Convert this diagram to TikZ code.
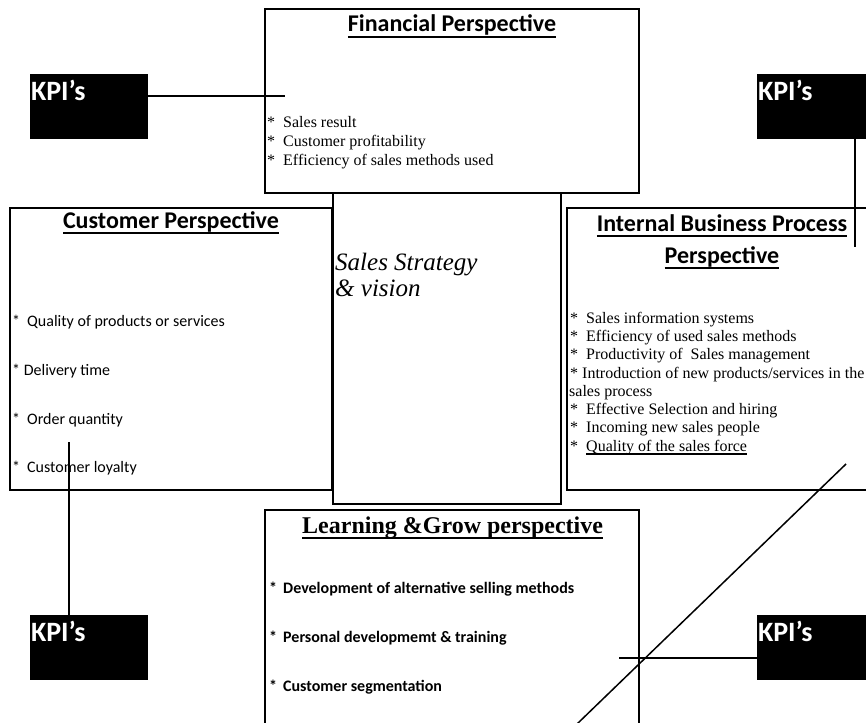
\documentclass[tikz,border=0pt]{standalone}
\usepackage{fontspec}
\setmainfont{Liberation Serif}
\newfontfamily\calibri{Carlito}
\newsavebox{\undlbox}
\newcommand{\undl}[1]{\sbox\undlbox{#1}\rlap{\vrule height -0.15em depth 0.23em width \wd\undlbox}\usebox\undlbox}
\newcommand{\bul}[1][16pt]{\makebox[#1][l]{*}}
\tikzset{
  persp/.style={draw, line width=1.6pt, anchor=north west, outer sep=0pt, inner sep=0pt},
  kpi/.style={fill=black, text=white, anchor=north west, outer sep=0pt, inner xsep=1pt, inner ysep=0pt,
    text width=116pt, text height=26.7pt, text depth=38.3pt, font=\calibri\bfseries\fontsize{28}{28}\selectfont},
  ttl/.style={anchor=base, inner sep=0pt, font=\calibri\bfseries\fontsize{24}{24}\selectfont},
  serif item/.style={anchor=base west, inner sep=0pt, font=\fontsize{16}{19}\selectfont},
  sans item/.style={anchor=base west, inner sep=0pt, font=\calibri\fontsize{16}{19}\selectfont},
  link/.style={line width=1.5pt}
}
\begin{document}
\begin{tikzpicture}[x=1pt, y=-1pt]
\useasboundingbox (0,0) rectangle (866,722);
\clip (0,0) rectangle (866,722);
% perspective boxes
\node[persp, minimum width=374pt, minimum height=184pt] (fin) at (265,9) {};
\node[persp, minimum width=322pt, minimum height=282pt] (cus) at (10,208) {};
\node[persp, minimum width=228pt, minimum height=311pt] (mid) at (333,193) {};
\node[persp, minimum width=310pt, minimum height=282pt] (ibp) at (567,208) {};
\node[persp, minimum width=374pt, minimum height=230pt] (lrn) at (265,510) {};

% financial
\node[ttl] (finT) at (452,32) {\undl{Financial Perspective}};
\foreach \t [count=\i] in {Sales result, Customer profitability, Efficiency of sales methods used}
{
    \node[serif item] (fin\i) at (267,{108.7+19*\i}) {\bul\t};
}

% customer
\node[ttl] (cusT) at (171,228.3) {\undl{Customer Perspective}};
\node[sans item] (cus1) at (12,326.7) {\bul[15pt]Quality of products or services};
\node[sans item] (cus2) at (12,375.4) {* Delivery time};
\node[sans item] (cus3) at (12,424) {\bul[15pt]Order quantity};
\node[sans item] (cus4) at (12,472.7) {\bul[15pt]Customer loyalty};

% strategy
\node[anchor=base west, inner sep=0pt, font=\itshape\fontsize{25}{27}\selectfont] (midT1) at (335,270) {Sales Strategy};
\node[anchor=base west, inner sep=0pt, font=\itshape\fontsize{25}{27}\selectfont] (midT2) at (335,296.7) {\& vision};

% internal business process
\node[ttl] (ibpT1) at (722,231.7) {\undl{Internal Business Process}};
\node[ttl] (ibpT2) at (722,263.3) {\undl{Perspective}};
\node[serif item] (ibp1) at (570,323.3) {\bul Sales information systems};
\node[serif item] (ibp2) at (570,341.6) {\bul Efficiency of used sales methods};
\node[serif item] (ibp3) at (570,359.8) {\bul Productivity of~ Sales management};
\node[serif item] (ibp4) at (570,378.1) {* Introduction of new products/services in the};
\node[serif item] (ibp5) at (569,396.4) {sales process};
\node[serif item] (ibp6) at (570,414.6) {\bul Effective Selection and hiring};
\node[serif item] (ibp7) at (570,432.8) {\bul Incoming new sales people};
\node[serif item] (ibp8) at (570,451) {\bul\undl{Quality of the sales force}};

% learning
\node[ttl, font=\bfseries\fontsize{24}{24}\selectfont] (lrnT) at (452.6,533) {\undl{Learning \&Grow perspective}};
\foreach \t [count=\i] in {Development of alternative selling methods, Personal developmemt \& training, Customer segmentation}
{
    \node[sans item, font=\calibri\bfseries\fontsize{16}{19}\selectfont] (lrn\i) at (269,{544+49.2*\i}) {\bul[14pt]\t};
}

% KPI's
\node[kpi] (kpiFin) at (30,74) {KPI’s};
\node[kpi] (kpiIbp) at (757,74) {KPI’s};
\node[kpi] (kpiCus) at (30,615) {KPI’s};
\node[kpi] (kpiLrn) at (757,615) {KPI’s};

\coordinate (finEnd) at (285,96);
\coordinate (ibpEnd) at (855,247);
\coordinate (cusEnd) at (69,442);
\coordinate (lrnEnd) at (619,658);
\coordinate (slashTop) at (846,464);
\coordinate (slashEnd) at (577,724);
\draw[link] (kpiFin.east |- finEnd) -- (finEnd);
\draw[link] (kpiIbp.south -| ibpEnd) -- (ibpEnd);
\draw[link] (cusEnd) -- (cusEnd |- kpiCus.north);
\draw[link] (lrnEnd) -- (lrnEnd -| kpiLrn.west);
\draw[link] (slashTop) -- (slashEnd);
\end{tikzpicture}
\end{document}
